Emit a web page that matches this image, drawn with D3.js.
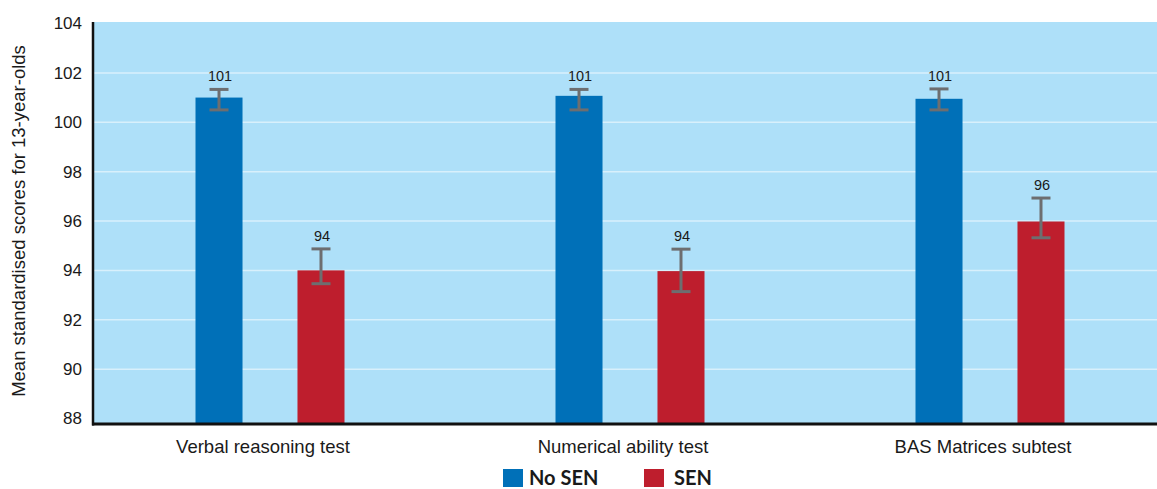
<!DOCTYPE html>
<html lang="en">
<head>
    <meta charset="UTF-8">
    <title>Mean standardised scores</title>
    <script src="https://d3js.org/d3.v7.min.js"></script>
    <style>
        body { margin: 0; background: #fff; }
        text { font-family: "Liberation Sans", Arial, sans-serif; fill: #1a1a1a; }
        .grid line { stroke: #d8f0fc; stroke-width: 1.5; }
        .legend text { font-family: Lato, "Open Sans", sans-serif; font-weight: bold; }
    </style>
</head>
<body>
<script>

    var width = 1157,
        height = 489;

    // data
    var categories = ["Verbal reasoning test", "Numerical ability test", "BAS Matrices subtest"];
    var series = ["No SEN", "SEN"];
    var colors = ["#0070b8", "#be1e2d"];
    var noSenMean = [101.0, 101.07, 100.95];
    var noSenLow = [100.5, 100.5, 100.5];
    var noSenHigh = [101.33, 101.33, 101.35];
    var senMean = [94.0, 93.97, 95.98];
    var senLow = [93.46, 93.14, 95.32];
    var senHigh = [94.87, 94.86, 96.93];
    var labels = ["101", "94", "101", "94", "101", "96"];
    var yTicks = [88, 90, 92, 94, 96, 98, 100, 102, 104];

    var rows = [];
    categories.forEach(function(c, i) {
        rows.push({cat: c, s: series[0], v: noSenMean[i], lo: noSenLow[i], hi: noSenHigh[i], label: labels[i * 2]});
        rows.push({cat: c, s: series[1], v: senMean[i], lo: senLow[i], hi: senHigh[i], label: labels[i * 2 + 1]});
    });

    var plotLeft = 93, plotTop = 22, axisY = 424;

    var svg = d3.select("body").append("svg")
        .attr("width", width)
        .attr("height", height);

    var x0 = d3.scaleBand().domain(categories).range([90, 1170]);
    var x1 = d3.scaleBand().domain(series).range([0, 149]).paddingInner(0.539);
    var y = d3.scaleLinear().domain([88, 104]).range([418.5, 23.5]);
    var color = d3.scaleOrdinal().domain(series).range(colors);

    // background
    svg.append("rect")
        .attr("x", plotLeft)
        .attr("y", plotTop)
        .attr("width", width - plotLeft)
        .attr("height", axisY - plotTop)
        .attr("fill", "#aee0f9");

    // gridlines
    svg.append("g")
        .attr("class", "grid")
        .selectAll("line")
        .data(yTicks.filter(function(t) { return t > 88 && t < 104; }))
        .enter().append("line")
        .attr("x1", plotLeft)
        .attr("x2", width)
        .attr("y1", function(d) { return y(d); })
        .attr("y2", function(d) { return y(d); });

    // y axis
    var yAxis = svg.append("g")
        .attr("transform", "translate(" + plotLeft + ",0)")
        .call(d3.axisLeft(y).tickValues(yTicks).tickSize(0).tickPadding(11).tickFormat(d3.format("d")));
    yAxis.select(".domain").remove();
    yAxis.attr("font-size", null).attr("font-family", null);
    yAxis.selectAll("text").style("font-size", "17px").attr("fill", "#1a1a1a");

    // bars
    var groups = svg.append("g").selectAll("g")
        .data(rows)
        .enter().append("g")
        .attr("transform", function(d) { return "translate(" + (x0(d.cat) + x0.bandwidth() / 2 - 74.5 + x1(d.s)) + ",0)"; });

    groups.append("rect")
        .attr("x", 0)
        .attr("y", function(d) { return y(d.v); })
        .attr("width", x1.bandwidth())
        .attr("height", function(d) { return axisY - y(d.v); })
        .attr("fill", function(d) { return color(d.s); });

    // error bars
    var cx = x1.bandwidth() / 2;
    groups.append("line")
        .attr("x1", cx).attr("x2", cx)
        .attr("y1", function(d) { return y(d.lo); })
        .attr("y2", function(d) { return y(d.hi); })
        .attr("stroke", "#6d6e70").attr("stroke-width", 3);
    groups.append("line")
        .attr("x1", cx - 9.5).attr("x2", cx + 9.5)
        .attr("y1", function(d) { return y(d.hi); })
        .attr("y2", function(d) { return y(d.hi); })
        .attr("stroke", "#6d6e70").attr("stroke-width", 3);
    groups.append("line")
        .attr("x1", cx - 9.5).attr("x2", cx + 9.5)
        .attr("y1", function(d) { return y(d.lo); })
        .attr("y2", function(d) { return y(d.lo); })
        .attr("stroke", "#6d6e70").attr("stroke-width", 3);

    groups.append("text")
        .attr("x", cx + 1)
        .attr("y", function(d) { return y(d.hi) - 8; })
        .attr("text-anchor", "middle")
        .style("font-size", "14.5px")
        .text(function(d) { return d.label; });

    // axis lines
    svg.append("line")
        .attr("x1", plotLeft).attr("x2", plotLeft)
        .attr("y1", plotTop).attr("y2", axisY + 1.5)
        .attr("stroke", "#111").attr("stroke-width", 2.5);
    svg.append("line")
        .attr("x1", plotLeft - 1).attr("x2", width)
        .attr("y1", axisY).attr("y2", axisY)
        .attr("stroke", "#111").attr("stroke-width", 3);

    // category labels
    svg.append("g").selectAll("text")
        .data(categories)
        .enter().append("text")
        .attr("x", function(d) { return x0(d) + x0.bandwidth() / 2 - 7; })
        .attr("y", 453)
        .attr("text-anchor", "middle")
        .style("font-size", "18.5px")
        .text(function(d) { return d; });

    // y axis title
    svg.append("text")
        .attr("transform", "translate(25,221) rotate(-90)")
        .attr("text-anchor", "middle")
        .style("font-size", "18.5px")
        .text("Mean standardised scores for 13-year-olds");

    // legend
    var legendX = [503, 644];
    var legend = svg.append("g").attr("class", "legend")
        .selectAll("g")
        .data(series)
        .enter().append("g")
        .attr("transform", function(d, i) { return "translate(" + legendX[i] + ",469)"; });
    legend.append("rect")
        .attr("width", 20).attr("height", 18)
        .attr("fill", function(d) { return color(d); });
    legend.append("text")
        .attr("x", function(d, i) { return i === 0 ? 26 : 30; })
        .attr("y", 16)
        .style("font-size", "20px")
        .text(function(d) { return d; });

</script>
</body>
</html>
